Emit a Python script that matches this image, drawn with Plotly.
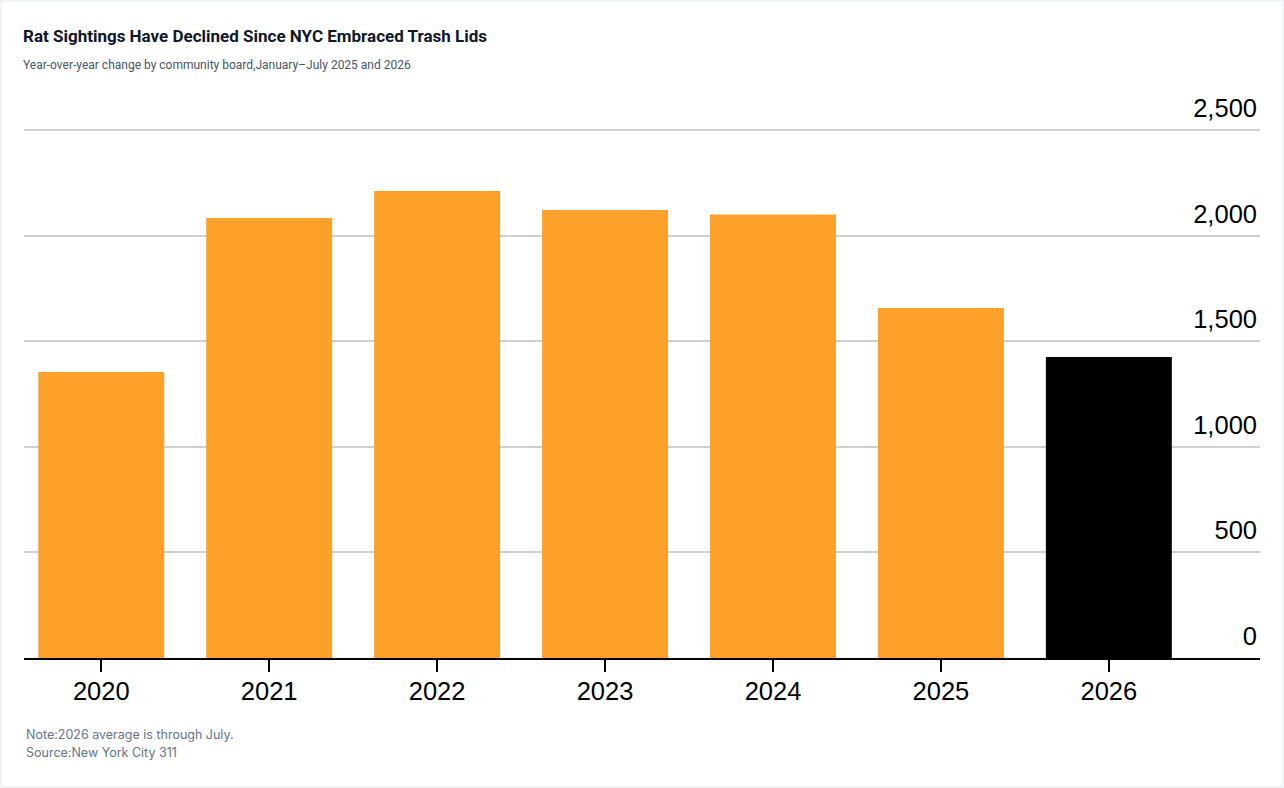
import plotly.graph_objects as go

# Data
years = ["2020", "2021", "2022", "2023", "2024", "2025", "2026"]
sightings = [1354, 2083, 2211, 2121, 2100, 1657, 1425]
bar_colors = ["#FEA12B"] * 6 + ["#000000"]
y_ticks = [0, 500, 1000, 1500, 2000, 2500]

title_text = "Rat Sightings Have Declined Since NYC Embraced Trash Lids"
subtitle_text = "Year-over-year change by community board,January–July 2025 and 2026"
note_text = "Note:2026 average is through July."
source_text = "Source:New York City 311"

W, H = 1284, 788
L, R, T, B = 24, 24, 72, 130
PW, PH = W - L - R, H - T - B
px_per_unit = 528 / 2500          # 2,500 gridline sits at y=130 px
y_top = 2500 + (130 - T) / px_per_unit

fig = go.Figure()
fig.add_trace(go.Bar(x=years, y=sightings, marker=dict(color=bar_colors, line_width=0),
                     hoverinfo="x+y"))

# Axes
fig.update_xaxes(type="category", range=[-0.46, 6.9], showline=True, linecolor="#000000", linewidth=2,
                 ticks="outside", ticklen=12, tickwidth=1.5, tickcolor="#000000", ticklabelstandoff=-3,
                 tickfont=dict(family="Liberation Sans, Arial", size=25.5, color="#000000"),
                 showgrid=False, fixedrange=True)
fig.update_yaxes(range=[0, y_top], side="right", ticklabelposition="inside top", tickvals=y_ticks,
                 ticklabelshift=-4,
                 tickformat=",", showgrid=True, gridcolor="#d0d0d0", gridwidth=2, zeroline=False,
                 tickfont=dict(family="Liberation Sans, Arial", size=25.5, color="#000000"),
                 fixedrange=True)

# Title, subtitle and notes (positions in page pixels)
texts = [
    (title_text, 21, 36, 17, "#0f172a", True, "Roboto, Inter"),
    (subtitle_text, 21, 65, 12, "#475569", False, "Roboto, Inter"),
    (note_text, 24, 734, 12.5, "#64748b", False, "Inter, Noto Sans"),
    (source_text, 24, 752, 12.5, "#64748b", False, "Inter, Noto Sans"),
]
for txt, xpix, ypix, size, color, bold, fam in texts:
    fig.add_annotation(x=(xpix - L) / PW, y=(H - B - ypix) / PH, xref="paper", yref="paper",
                       text=f"<b>{txt}</b>" if bold else txt, showarrow=False,
                       xanchor="left", yanchor="middle",
                       font=dict(family=fam, size=size, color=color))

# Card border
fig.add_shape(type="rect", xref="paper", yref="paper", x0=(1 - L) / PW, x1=(W - 1 - L) / PW,
              y0=(H - B - (H - 1)) / PH, y1=(H - B - 1) / PH,
              line=dict(color="#eef1f5", width=2), fillcolor="rgba(0,0,0,0)")

fig.update_layout(width=W, height=H, margin=dict(l=L, r=R, t=T, b=B),
                  plot_bgcolor="#FFFFFF", paper_bgcolor="#FFFFFF", showlegend=False,
                  bargap=0.25)

fig.write_html("out.html", config={"displayModeBar": False},
               post_script="document.body.style.margin='0';document.body.style.overflow='hidden';")
